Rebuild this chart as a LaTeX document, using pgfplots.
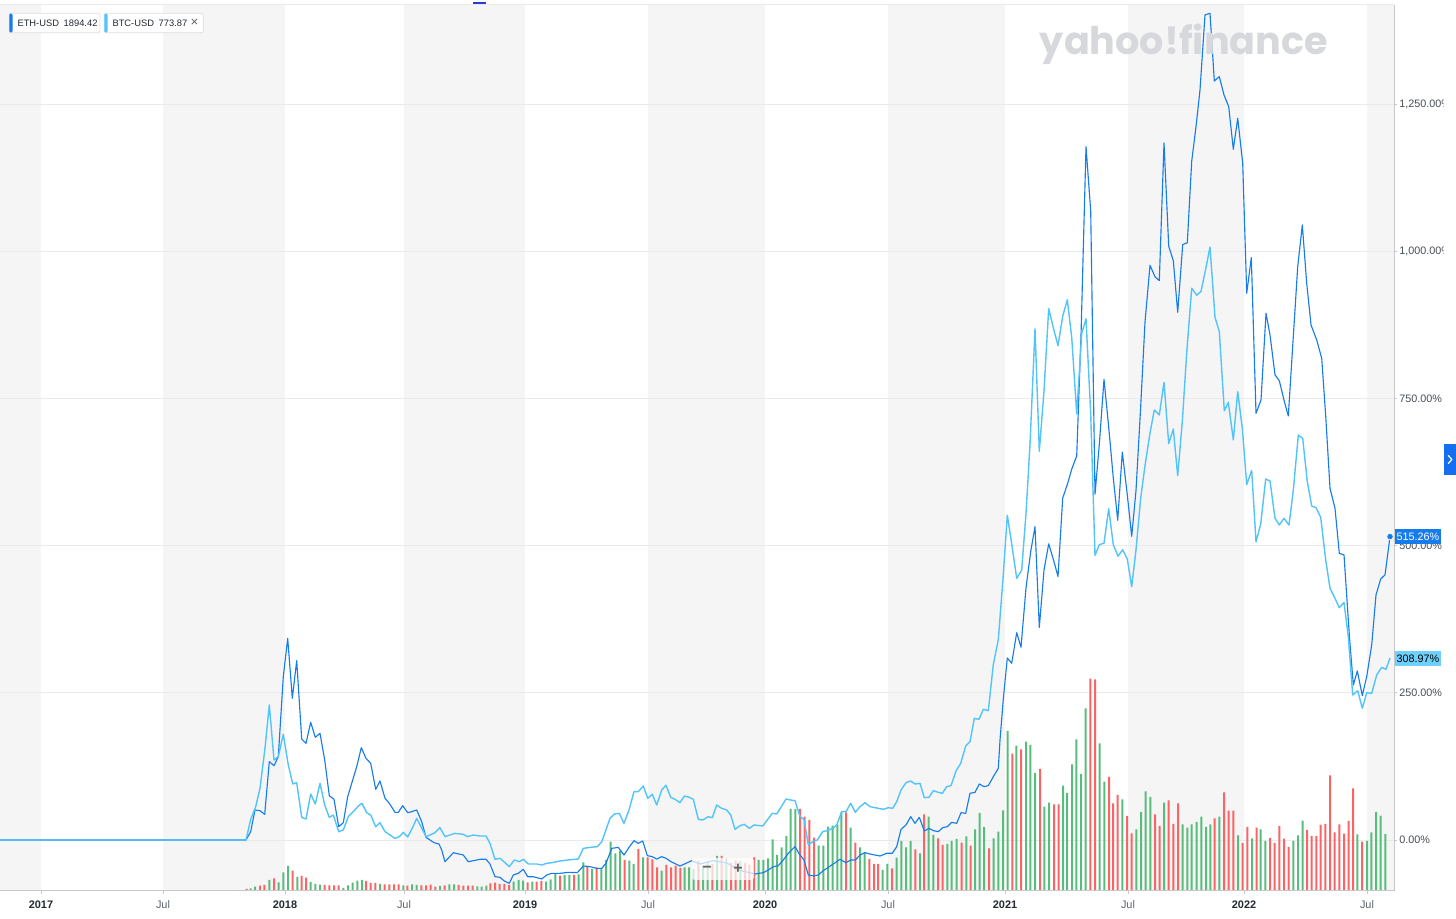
\documentclass[border=0pt]{standalone}
\usepackage{pgfplots}
\usepackage{pgfplotstable}
\pgfplotsset{compat=1.18}
\usepackage{graphicx}
\usepackage{fontspec}
\setmainfont{Liberation Sans}
\newfontfamily\yfont{Poppins}
\definecolor{eth}{RGB}{22,124,236}
\definecolor{btc}{RGB}{82,196,250}
\definecolor{btcbadge}{RGB}{110,208,252}
\definecolor{band}{RGB}{245,245,245}
\definecolor{gridc}{RGB}{234,234,234}
\definecolor{axisc}{RGB}{200,200,200}
\definecolor{volg}{RGB}{88,188,124}
\definecolor{volr}{RGB}{250,100,100}
\definecolor{txt}{RGB}{35,42,49}
\definecolor{txtl}{RGB}{92,99,106}
\definecolor{ytxt}{RGB}{70,78,86}
\definecolor{wm}{RGB}{214,216,220}
\definecolor{tab}{RGB}{20,110,240}
\definecolor{handle}{RGB}{45,60,200}
\newcommand\yr[1]{\textcolor{txt}{\bfseries #1}}

\pgfplotstableread{
x p
0 0
246 0
250.7 14.2
255 51.0
260 49.8
264.7 43.6
269.3 133.0
274 126.2
278.3 141.5
283.3 277.4
287.7 342.5
292.3 240.6
296.7 304.6
301.7 171.5
306 164.2
310.7 199.9
315.3 174.4
320 181.2
324.7 135.9
329.3 75.2
334 69.1
338.7 22.6
343.3 29.4
347.7 73.6
352.7 101.9
356.7 124.5
361.3 156.8
366 138.7
370.7 130.2
375.7 86.1
380 100.2
385 70.8
389.3 62.3
395 47.0
398.3 47.0
402.7 58.3
407.7 46.4
411.7 48.1
416.7 51.0
421.7 31.1
426 4.5
430 0
434 -4.5
439 -6.8
441.7 -17
445 -36.9
453.3 -21.6
463.3 -25.5
468.3 -36.9
480 -32.8
486 -32.8
490 -40.8
495 -62.3
500 -63.4
504.3 -69.6
509.3 -73.6
513.3 -59.4
518.3 -56.6
523.3 -49.8
527.7 -62.3
533.3 -62.3
541.7 -66.2
546.7 -59.4
551.7 -56.6
560 -56.6
568.3 -54.9
577.3 -55.4
583.3 -44.2
590 -45.3
596.7 -48.1
601.7 -48.1
606 -39.6
611.7 -14.2
618.3 -12.5
624 -25.5
629 -12.5
634 -1.1
638.3 -5.7
642.7 -1.7
647.3 -26.6
652.3 -28.3
656.7 -32.3
661.7 -28.3
666 -31.1
671 -36.8
680 -44.2
686 -39.6
691.7 -35.1
700 -40.8
713.3 -35.1
726.7 -39
740 -51.6
755 -57.7
763.3 -55.5
768.3 -50.9
773.3 -45.3
778.3 -43.6
783.3 -33.9
788.3 -22.6
795 -11.3
799.3 -23.8
804 -34
808.3 -59.4
813.3 -61.1
818.3 -59.4
823.3 -52.1
828.3 -46.4
833.3 -40.8
840 -32.8
846 -38.5
850.7 -34
855.3 -34
860 -25.5
865 -21.5
870 -23.8
880 -27.2
886.7 -22.6
892.3 -22.6
896.7 -11.3
901 18.1
906 25.5
910.7 39.6
915 28.3
919.3 38.5
924.3 15.3
929 19.8
933.3 15.9
938.3 14.2
942.7 21.0
947.3 22.6
951.7 30.0
956.7 28.3
961 46.4
965.7 45.3
970 79.3
975 80.9
979.3 95.1
984 90.6
988.3 92.3
993.3 107.5
998.3 121.8
1000 169.8
1003.3 239.5
1007.3 309.1
1011.7 300.1
1016.7 352.1
1021 327.3
1026 428.2
1030.7 489.9
1035 532.2
1039.3 361.1
1044 458.6
1048.7 502.9
1053.3 476.9
1058 447.5
1062.7 580.8
1067.3 603.6
1071.7 629.6
1076.7 652.3
1081 857
1086 1177.5
1090.7 1068.3
1095 587.3
1099.3 671.9
1104 782.3
1108.7 701.1
1113.3 614.7
1117.7 543.1
1122.3 658.8
1127 590.5
1131.7 515.8
1136 593.7
1140.7 736.7
1145 879.8
1150 976
1155 956.5
1159.3 950
1164 1183.9
1168.7 1008.5
1173.3 983.9
1177.7 896.1
1182.7 1011.1
1187.3 1014.4
1191.7 1152.8
1196 1211.5
1200 1273.8
1205 1401.2
1210 1404
1214.3 1289
1219.3 1296.4
1224 1265.3
1228.7 1245.5
1233.3 1173.1
1237.7 1225.7
1242.7 1149.3
1246.7 928.5
1251.3 989
1256 724.7
1261 747.3
1266 894.5
1270 857.7
1275 790
1279.3 780
1284.3 745
1288.3 720.1
1297.7 973.7
1302.3 1044.5
1306.7 945.5
1311 874.7
1316.7 849.2
1321.7 818.1
1325.7 720
1330 597.3
1335 563.3
1339.3 486.9
1344 484.1
1349.3 348.2
1353.3 263.3
1357.3 287.1
1362.3 245.2
1366.7 277.5
1371.7 331.3
1376 416.2
1380.7 443.4
1385 450.2
1390 515.26
}\ethdata

\pgfplotstableread{
x p
0 0
246 0
250.7 35.1
255.7 56.6
260 87.8
265 155.7
269.3 229.3
274 135.9
278.3 141.5
283.3 179.5
288 130.2
292.7 95.1
296.7 97.4
301.7 38.5
306 35.7
310.7 78.1
315.3 61.1
320 96.2
324.7 59.4
329.3 38.5
333.3 42.5
338.7 14.2
343.3 17.0
348.3 39.6
353.3 48.1
358.3 57.7
362 62.3
366.7 46.4
370.7 42.5
375.7 22.6
380 29.4
385 14.2
390 8.5
395 2.8
399.3 5.7
403.3 13.0
407.7 5.1
412.7 21.5
416.7 36.8
421.3 21.5
426 5.7
430 8.5
435 12.5
440 20.9
445 5.7
450 8.5
455 11.3
463.3 9.6
467.3 5.7
473.3 8.5
480 6.8
486 6.8
490 -5.7
495 -32.8
500 -31.1
504.7 -38
509.3 -45.3
514.3 -34
519.3 -36.8
523.3 -32.8
528.3 -40.8
536.7 -40.8
541.7 -42.5
546.7 -39.6
551.7 -38.5
560 -35.7
567.3 -34.0
578.3 -32.3
583.3 -14.2
590 -12.5
597.3 -11.3
601.7 -3.1
610 36.8
614.3 44.2
619.3 45.3
624 28.3
629 51.0
634 82.1
638.3 82.1
643.3 91.7
647.7 70.8
652.3 77.6
656.7 59.4
661.7 84.9
666 92.9
670.7 72.5
675 69.1
680 63.4
684.3 74.7
689.3 72.5
693.3 69.1
698.3 35.1
702.7 34.0
708.3 39.6
712.3 37.9
716.7 59.4
721.7 53.8
726.7 51.0
730.7 42.5
735 18.1
740 24.3
744.3 26.6
749.3 19.8
754 25.5
762.7 23.8
767.3 34.0
772.3 45.3
776.7 44.2
781.7 57.7
786 69.6
790.7 67.9
795 66.8
800 39.6
804 35.1
808.3 -8.5
812.7 -2.8
817.3 0
822.7 14.2
827.3 15.9
832.7 19.8
836.7 25.5
841.7 48.1
846 48.1
850.7 62.3
855.3 47.0
860 56.6
865 63.4
870 56.6
878.3 53.8
883.3 52.1
888.3 54.9
892.7 53.8
896.7 65.1
901 84.9
906 97.4
910.7 100.2
915 95.1
920 96.2
924.3 71.9
929 72.5
933.3 83.8
938.3 80.9
942.3 79.3
946.7 90.6
951 92.3
956 117.2
960.7 130.2
965.7 159.6
970 167.0
974.3 206.6
979 205
983.3 221.9
988.3 219.7
993.3 298
998.3 340.4
1003.3 450.8
1007.3 551.6
1011.7 502.9
1016.7 444.3
1021.7 458.6
1026 554.9
1030 671.9
1035 868.1
1039.3 660.2
1044 762.7
1048.7 902.5
1053.3 870
1058 839.5
1062.7 889.6
1067.3 917.5
1071.7 853.8
1076.7 723.8
1081.7 860.4
1086 885.1
1090.7 723.8
1095 483.4
1099.3 501.5
1104 504.1
1108.7 562.7
1113.3 501.5
1118 482.0
1122.7 493.0
1127.3 476.9
1131.7 430.1
1136 493.0
1140.7 580.8
1145 636.0
1150 691.2
1154.3 730.3
1159.3 721.8
1164 777.2
1168.7 673.1
1173.3 697.9
1177.7 618.6
1182.3 710.8
1186.7 827.8
1191.7 937
1196.7 925.3
1201 931.7
1205.5 968
1210 1007
1215 887.5
1219.3 863.5
1224.3 728.9
1228.3 743.3
1233.3 679.6
1237.7 761.5
1242.3 699
1246.7 603.6
1251.7 627.5
1256 506.1
1260.7 536.7
1265.7 613.1
1270 609.7
1275 546.3
1279.3 534.9
1284 546.3
1289 534.9
1293.3 594.3
1298.3 687.7
1302.7 682.1
1307.3 608.5
1311.7 567.2
1316 564.4
1320.7 548
1325.7 475.5
1330 427.4
1335 410.4
1339.3 394.5
1344 403.6
1348.3 345.3
1352.7 246.3
1357.7 253.6
1362.3 223.7
1366.7 250.2
1371.7 249.1
1376.7 280.2
1381.7 293.3
1386 289.9
1390 308.97
}\btcdata

\pgfplotstableread{
x h
250.7 2.7
255 4.3
269.3 11
278.7 8.7
283.3 18.7
288 25
297.3 14
310.7 9
315.3 7
320 6.3
343.3 3
348 5.7
352.7 8.3
357.3 10.3
362 11
380 7
403.3 5.7
412 6.7
416.7 6
440 5
449.3 6.7
454 6.7
477.3 4.7
481.7 4.3
486.3 5.3
513.7 9.3
518.7 11
523 10.3
532.3 9.3
546 9.3
550.7 11.7
555.3 17.7
564.7 16
569.3 16
578.7 16.7
583.3 28.7
592 22
601.3 22.7
606 31
610.7 49.3
615.3 37.7
620 40.3
629.3 30.3
633.7 27
643 33.7
661.7 20.3
684.7 23.7
689 23.7
693.7 22
703 25
707.7 29.3
717 35
726.3 32.7
740.3 30
758.7 31
763.3 31
768 32.7
772.7 51.7
777 36
781.7 43.7
786.3 55
790.7 82
795.3 82
818.7 45.3
823.3 45.3
828 64.3
832.7 65.3
837.3 66.7
841.3 78.7
850.7 63.3
860 43.7
864.7 38.7
882.7 21
887.3 27
896.7 33.3
901.3 50
906 43.7
910.7 50
920 37.7
928.7 74.3
933.3 56
947.3 47
951.7 50
956.7 52
966.3 54.7
975 61.7
979.7 78
984 64
993.7 52.7
998.3 59.3
1003 80.7
1007.7 160
1016.3 145.3
1026 149.3
1030.3 146
1035 118
1044.3 84.3
1049 88.3
1063 105.3
1067 98
1072 126.7
1076.3 151.7
1081 117
1085.7 182.7
1099.7 147.7
1104.3 109.3
1122.3 91.7
1136.3 61.7
1141 79
1145.7 99.7
1150.3 94
1164 88.3
1182.7 66.7
1187.3 63.3
1191.7 66.7
1196.7 69
1201.3 74.3
1206 64
1210.3 66.7
1219.3 74.3
1238 55.7
1252 52.7
1260.7 61.7
1265.3 50
1293.3 50
1298 55.7
1302.7 70.3
1357.3 56.7
1367 50
1371.3 58.7
1376 79
1380.7 75.3
1385.3 57
}\volgreen

\pgfplotstableread{
x h
246.7 2
260 5.3
264.3 6
274 12.7
292.7 20.3
301.7 15
306 13.3
324.7 6
329.3 5.7
334 5.7
338.7 5.7
366 10
370.7 8
375.3 8
384.7 6.7
389.3 6.7
394 6.7
398.7 6.7
407.3 5.3
421.3 5.7
426 5.7
430.7 6.3
435.3 4.3
444.7 5.7
458.7 6
463.3 5.3
468 5.3
472.7 5.3
490.3 7.7
495 8.3
499.7 7
504.3 7
509 6
527.7 8.7
536.7 9.3
541.3 10
560 15.3
574 16
587.3 25
596.7 23.7
624.7 31
638.3 42
647.7 33.7
652.3 31.7
657 23.7
666.3 26
671 23.7
675.7 25.3
680.3 23
698.3 30
712.3 27
721.7 35
731 28
735.7 30.3
745 28
749.3 26
754 33.7
800 82
804.7 74.3
809.3 71
814 53.3
846 78.7
855.3 48.3
869.3 32
874 27
878 27
892 22.7
915.3 41.7
924 76.7
938 52.7
942.7 46
961.7 48.3
970.7 45.3
989 42.7
1012.3 137.3
1021 141.7
1040 122
1054 86.7
1058.7 86.7
1090.3 212.3
1095 211.7
1109 114
1113 87.7
1117.7 96
1127 75
1131.7 57.7
1155 76.7
1159.7 65
1168.7 90.7
1173.3 67
1178 87.7
1214.7 72.7
1224 98.7
1228.7 80.3
1233.3 80.3
1242.7 48
1247.3 64
1256.7 63.3
1270 53
1274.7 48
1279.3 65
1284 52.3
1288.7 44
1307 61
1311.7 55
1316.3 55
1320.7 66
1325.3 67
1330 115.7
1334.7 58.7
1339.3 66.7
1344 57.3
1348.7 70
1353 102.7
1362 49.3
}\volred

\begin{document}
\begin{tikzpicture}
\useasboundingbox (0,0) rectangle (1092pt,689.25pt);
\fill[white] (0,0) rectangle (1092pt,689.25pt);
\begin{scope}
\clip (0,0) rectangle (1082.25pt,689.25pt);
% background, grid and volume bars
\begin{axis}[
  at={(0pt,21pt)}, anchor=south west,
  width=1045.5pt, height=664.5pt, scale only axis,
  xmin=0, xmax=1394, ymin=0, ymax=886,
  hide axis, clip=false]
\fill[band] (axis cs:0,0) rectangle (axis cs:41,886);
\fill[band] (axis cs:163,0) rectangle (axis cs:285,886);
\fill[band] (axis cs:404,0) rectangle (axis cs:525,886);
\fill[band] (axis cs:648,0) rectangle (axis cs:765,886);
\fill[band] (axis cs:888,0) rectangle (axis cs:1005,886);
\fill[band] (axis cs:1128,0) rectangle (axis cs:1244,886);
\fill[band] (axis cs:1367,0) rectangle (axis cs:1394,886);
\draw[gridc, line width=0.6pt] (axis cs:0,51) -- (axis cs:1394,51);
\draw[gridc, line width=0.6pt] (axis cs:0,198.2) -- (axis cs:1394,198.2);
\draw[gridc, line width=0.6pt] (axis cs:0,345.4) -- (axis cs:1394,345.4);
\draw[gridc, line width=0.6pt] (axis cs:0,492.6) -- (axis cs:1394,492.6);
\draw[gridc, line width=0.6pt] (axis cs:0,639.8) -- (axis cs:1394,639.8);
\draw[gridc, line width=0.6pt] (axis cs:0,787) -- (axis cs:1394,787);
\addplot[ybar, bar width=2, bar shift=0pt, fill=volg, draw=none] table[x=x,y=h]{\volgreen};
\addplot[ybar, bar width=2, bar shift=0pt, fill=volr, draw=none] table[x=x,y=h]{\volred};
\end{axis}
% price lines
\begin{axis}[
  at={(0pt,21pt)}, anchor=south west,
  width=1045.5pt, height=664.5pt, scale only axis,
  xmin=0, xmax=1394, ymin=-86.6, ymax=1418.1,
  axis x line*=bottom, axis y line*=right,
  axis line style={draw=axisc, line width=0.75pt},
  clip=false,
  xtick={41,163,285,404,525,648,765,888,1005,1128,1244,1367},
  xticklabels={\yr{2017},Jul,\yr{2018},Jul,\yr{2019},Jul,\yr{2020},Jul,\yr{2021},Jul,\yr{2022},Jul},
  ytick={0,250,500,750,1000,1250},
  tick align=outside, major tick length=2.25pt,
  tick style={draw=axisc, line width=0.6pt},
  /pgf/number format/assume math mode=true,
  xticklabel style={font=\fontsize{8.2}{9}\selectfont, text=txtl, anchor=center, yshift=-8.2pt},
  yticklabel style={font=\fontsize{8.1}{9}\selectfont, text=ytxt, anchor=west, inner sep=0pt, xshift=1.6pt},
  yticklabel={\pgfmathprintnumber[fixed,fixed zerofill,precision=2,1000 sep={,}]{\tick}\%},
]
\draw[gridc, line width=0.75pt] (rel axis cs:0,1) -- (rel axis cs:1,1);
\addplot[eth, line width=0.85pt, line join=round, mark=none] table[x=x,y=p]{\ethdata};
\addplot[btc, line width=1.05pt, line join=round, mark=none] table[x=x,y=p]{\btcdata};
\addplot[eth, only marks, mark=*, mark size=2.4pt, mark options={fill=eth, draw=white, line width=0.4pt}] coordinates {(1390,515.26)};
\end{axis}
% decorations in pixel coordinates
\begin{scope}[x=0.75pt, y=-0.75pt, shift={(0pt,689.25pt)}]
% watermark
\node[text=wm, inner sep=0pt] at (1184,44.5) {\resizebox{216pt}{!}{\yfont\bfseries yahoo!finance}};
% legend chips
\filldraw[fill=white, draw=black!13, line width=0.5pt, rounded corners=1.5pt] (9.3,13.3) rectangle (100,32.7);
\fill[eth, rounded corners=1.2pt] (9.3,13.3) rectangle (12.6,32.7);
\node[anchor=west, inner sep=0pt, text=txt, font=\fontsize{7}{8}\selectfont] at (17.3,23.3) {ETH-USD\hspace{3.5pt}1894.42};
\filldraw[fill=white, draw=black!13, line width=0.5pt, rounded corners=1.5pt] (104.3,13.3) rectangle (203.3,32.7);
\fill[btc, rounded corners=1.2pt] (104.3,13.3) rectangle (107.6,32.7);
\node[anchor=west, inner sep=0pt, text=txt, font=\fontsize{7}{8}\selectfont] at (112.3,23.3) {BTC-USD\hspace{3.5pt}773.87};
\node[inner sep=0pt, text=txtl, font=\fontsize{10}{10}\selectfont] at (194.5,23.3) {×};
% top handle
\fill[handle] (473,2) rectangle (486,4.5);
% zoom control overlay
\fill[white, fill opacity=0.72, rounded corners=2pt] (692,858) rectangle (754,880);
\node[text=black!62, font=\fontsize{12}{12}\selectfont\bfseries, inner sep=0pt] at (707,869) {−};
\node[text=black!62, font=\fontsize{12}{12}\selectfont\bfseries, inner sep=0pt] at (738,869) {+};
% value badges
\fill[eth] (1395,529) rectangle (1440.5,544.2);
\node[text=white, inner sep=0pt, font=\fontsize{8.1}{9}\selectfont] at (1417.8,536.6) {515.26\%};
\fill[btcbadge] (1395,651) rectangle (1440.5,666.2);
\node[text=black, inner sep=0pt, font=\fontsize{8.1}{9}\selectfont] at (1417.8,658.6) {308.97\%};
\end{scope}
\end{scope}
% right tab
\begin{scope}[x=0.75pt, y=-0.75pt, shift={(0pt,689.25pt)}]
\fill[tab] (1444,444) rectangle (1456,475);
\draw[white, line width=0.9pt, line cap=round, line join=round] (1448.3,455.5) -- (1451.8,459.5) -- (1448.3,463.5);
\end{scope}
\end{tikzpicture}
\end{document}
